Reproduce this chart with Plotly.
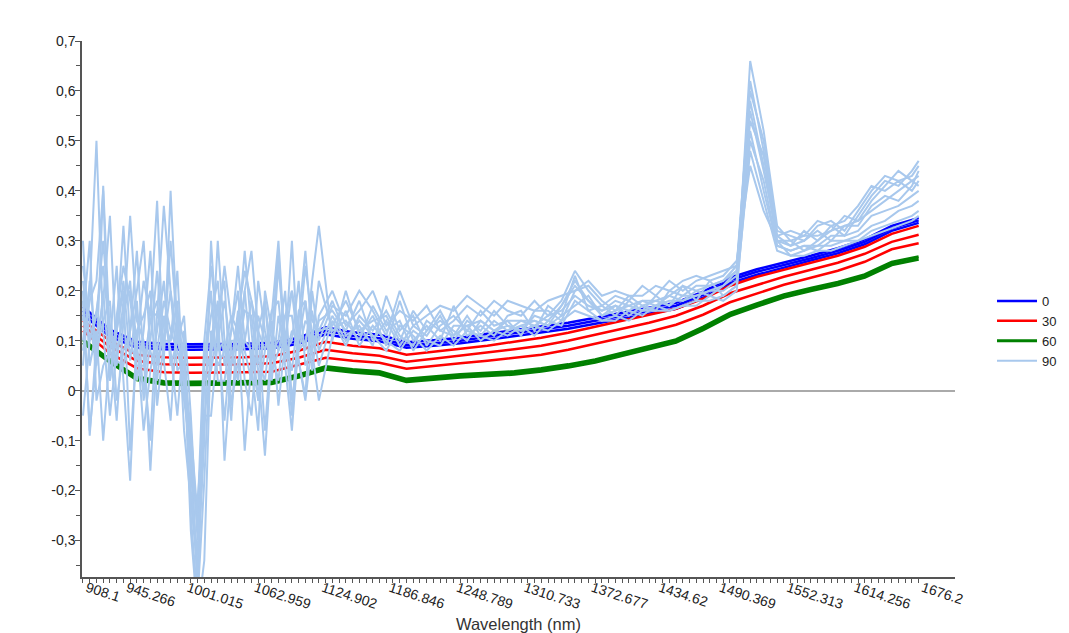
import numpy as np
import plotly.graph_objects as go

# ---------------- data ----------------
wl_coarse = [908.1, 932.877, 957.655, 982.432, 1007.21, 1031.987, 1056.764, 1081.542,
             1106.319, 1131.097, 1155.874, 1180.652, 1205.429, 1230.206, 1254.984, 1279.761,
             1304.539, 1329.316, 1354.094, 1378.871, 1403.648, 1428.426, 1453.203, 1477.981,
             1502.758, 1527.536, 1552.313, 1577.090, 1601.868, 1626.645, 1651.423, 1676.2]

blue_0 = [
    [0.168, 0.122, 0.098, 0.094, 0.093, 0.093, 0.094, 0.096, 0.106, 0.127, 0.117, 0.112, 0.097, 0.101, 0.106, 0.114,
     0.121, 0.128, 0.136, 0.146, 0.156, 0.166, 0.176, 0.198, 0.226, 0.243, 0.256, 0.270, 0.285, 0.303, 0.330, 0.346],
    [0.160, 0.115, 0.092, 0.088, 0.088, 0.088, 0.089, 0.090, 0.100, 0.120, 0.110, 0.105, 0.091, 0.095, 0.100, 0.108,
     0.115, 0.122, 0.130, 0.140, 0.150, 0.160, 0.170, 0.192, 0.221, 0.238, 0.251, 0.265, 0.280, 0.298, 0.325, 0.341],
    [0.152, 0.108, 0.086, 0.083, 0.082, 0.082, 0.083, 0.085, 0.094, 0.113, 0.104, 0.099, 0.086, 0.090, 0.095, 0.102,
     0.109, 0.116, 0.124, 0.134, 0.144, 0.154, 0.164, 0.186, 0.215, 0.232, 0.246, 0.260, 0.275, 0.293, 0.320, 0.336],
]
red_30 = [
    [0.140, 0.100, 0.072, 0.067, 0.066, 0.066, 0.067, 0.069, 0.080, 0.098, 0.090, 0.085, 0.072, 0.078, 0.084, 0.090,
     0.098, 0.106, 0.116, 0.128, 0.140, 0.152, 0.164, 0.184, 0.210, 0.228, 0.242, 0.256, 0.270, 0.288, 0.314, 0.330],
    [0.130, 0.088, 0.060, 0.053, 0.052, 0.052, 0.053, 0.055, 0.066, 0.082, 0.075, 0.070, 0.058, 0.064, 0.070, 0.076,
     0.083, 0.090, 0.100, 0.112, 0.124, 0.136, 0.150, 0.170, 0.195, 0.212, 0.228, 0.242, 0.256, 0.274, 0.298, 0.312],
    [0.120, 0.075, 0.045, 0.037, 0.036, 0.036, 0.037, 0.038, 0.052, 0.066, 0.060, 0.056, 0.044, 0.050, 0.055, 0.060,
     0.066, 0.072, 0.082, 0.094, 0.106, 0.118, 0.132, 0.152, 0.177, 0.195, 0.212, 0.226, 0.240, 0.258, 0.283, 0.295],
]
green_60 = [
    [0.102, 0.062, 0.027, 0.018, 0.017, 0.018, 0.018, 0.019, 0.032, 0.048, 0.042, 0.038, 0.023, 0.028, 0.032, 0.035,
     0.038, 0.044, 0.052, 0.062, 0.075, 0.089, 0.102, 0.127, 0.155, 0.174, 0.192, 0.205, 0.217, 0.232, 0.257, 0.268],
    [0.096, 0.057, 0.022, 0.013, 0.012, 0.013, 0.013, 0.014, 0.027, 0.043, 0.037, 0.033, 0.018, 0.023, 0.027, 0.030,
     0.033, 0.039, 0.047, 0.057, 0.070, 0.084, 0.097, 0.122, 0.150, 0.169, 0.187, 0.200, 0.212, 0.227, 0.252, 0.263],
]

# wavelengths of the "90" spectra: every point up to 1124.9 nm, every other point after
wl_fine = [908.1, 914.294, 920.489, 926.683, 932.877, 939.072, 945.266, 951.460, 957.655, 963.849,
           970.044, 976.238, 982.432, 988.627, 994.821, 1001.015, 1007.210, 1013.404, 1019.598, 1025.793,
           1031.987, 1038.181, 1044.376, 1050.570, 1056.764, 1062.959, 1069.153, 1075.347, 1081.542, 1087.736,
           1093.931, 1100.125, 1106.319, 1112.514, 1118.708, 1124.902,
           1137.291, 1149.680, 1162.068, 1174.457, 1186.846, 1199.234, 1211.623, 1224.012, 1236.400, 1248.789,
           1261.178, 1273.566, 1285.955, 1298.344, 1310.733, 1323.121, 1335.510, 1347.899, 1360.287, 1372.676,
           1385.065, 1397.453, 1409.842, 1422.231, 1434.620, 1447.008, 1459.397, 1471.786, 1484.174, 1496.563,
           1508.952, 1521.340, 1533.729, 1546.118, 1558.506, 1570.895, 1583.284, 1595.672, 1608.061, 1620.450,
           1632.838, 1645.227, 1657.616, 1670.004, 1676.2]

lightblue_90 = [
    [0.25, 0.14, 0.05, 0.20, 0.02, 0.12, 0.22, 0.06, 0.18, -0.02, 0.10, 0.24, 0.08, 0.30, 0.12, 0.02, -0.10, -0.40,
     0.05, 0.15, 0.22, 0.05, 0.12, 0.20, 0.02, -0.05, 0.12, 0.18, 0.06, 0.25, 0.10, 0.04, 0.16, 0.18, 0.08, 0.14,
     0.16, 0.12, 0.18, 0.10, 0.14, 0.09, 0.13, 0.11, 0.15, 0.10, 0.14, 0.12, 0.16, 0.13, 0.12, 0.15, 0.14, 0.17, 0.21, 0.18,
     0.15, 0.17, 0.16, 0.18, 0.17, 0.19, 0.18, 0.20, 0.19, 0.21, 0.23, 0.62, 0.48, 0.31, 0.29, 0.30, 0.32, 0.30, 0.33, 0.34,
     0.36, 0.38, 0.40, 0.42, 0.43],
    [0.10, 0.20, 0.50, 0.12, -0.05, 0.08, 0.15, 0.22, 0.02, 0.12, 0.28, 0.05, 0.14, 0.10, 0.18, -0.08, -0.22, -0.36,
     -0.10, 0.30, 0.08, 0.10, -0.06, 0.15, 0.24, 0.18, 0.06, 0.02, 0.14, -0.03, 0.10, 0.20, 0.12, 0.08, 0.22, 0.33,
     0.10, 0.20, 0.11, 0.15, 0.09, 0.18, 0.10, 0.13, 0.10, 0.17, 0.11, 0.13, 0.11, 0.15, 0.16, 0.12, 0.17, 0.15, 0.23, 0.16,
     0.17, 0.15, 0.18, 0.16, 0.19, 0.17, 0.21, 0.18, 0.22, 0.19, 0.21, 0.66, 0.52, 0.33, 0.30, 0.28, 0.30, 0.33, 0.31, 0.35,
     0.39, 0.42, 0.41, 0.44, 0.46],
    [-0.05, 0.10, 0.15, 0.30, 0.12, 0.05, 0.18, 0.20, 0.10, -0.08, 0.04, 0.12, 0.22, 0.05, 0.10, 0.15, -0.05, -0.30,
     0.02, 0.04, 0.12, 0.25, 0.14, 0.08, 0.16, 0.15, 0.04, -0.13, 0.08, 0.10, 0.20, -0.02, 0.08, 0.14, 0.12, 0.05,
     0.14, 0.09, 0.15, 0.12, 0.16, 0.11, 0.09, 0.14, 0.12, 0.11, 0.15, 0.11, 0.14, 0.12, 0.14, 0.13, 0.15, 0.16, 0.19, 0.17,
     0.16, 0.17, 0.15, 0.17, 0.18, 0.17, 0.19, 0.19, 0.20, 0.20, 0.22, 0.52, 0.40, 0.29, 0.28, 0.29, 0.28, 0.30, 0.30, 0.31,
     0.33, 0.34, 0.36, 0.37, 0.38],
    [0.18, -0.08, 0.06, 0.41, 0.10, 0.25, 0.02, -0.18, 0.12, 0.15, 0.20, -0.03, 0.10, 0.20, 0.04, 0.06, -0.28, -0.45,
     -0.34, 0.10, 0.18, -0.14, 0.05, 0.16, 0.08, 0.02, 0.22, 0.12, 0.04, 0.08, 0.15, 0.15, 0.06, -0.02, 0.10, 0.22,
     0.12, 0.14, 0.10, 0.17, 0.12, 0.14, 0.08, 0.12, 0.14, 0.12, 0.10, 0.14, 0.12, 0.11, 0.13, 0.14, 0.13, 0.15, 0.17, 0.19,
     0.15, 0.16, 0.17, 0.16, 0.17, 0.18, 0.18, 0.19, 0.20, 0.21, 0.24, 0.58, 0.45, 0.30, 0.27, 0.28, 0.29, 0.29, 0.30, 0.30,
     0.32, 0.33, 0.34, 0.35, 0.36],
    [0.30, 0.05, 0.12, -0.10, 0.08, 0.12, 0.33, 0.10, 0.05, 0.05, 0.14, 0.18, 0.06, -0.06, 0.15, 0.10, -0.15, -0.38,
     -0.05, -0.05, 0.10, 0.18, 0.08, 0.02, 0.20, 0.28, 0.12, 0.08, 0.16, 0.18, 0.05, -0.08, 0.10, 0.25, 0.14, 0.12,
     0.18, 0.11, 0.13, 0.09, 0.19, 0.12, 0.15, 0.09, 0.13, 0.15, 0.12, 0.16, 0.13, 0.14, 0.11, 0.16, 0.16, 0.14, 0.20, 0.21,
     0.18, 0.16, 0.19, 0.17, 0.16, 0.20, 0.19, 0.21, 0.21, 0.22, 0.25, 0.60, 0.50, 0.32, 0.31, 0.30, 0.33, 0.34, 0.32, 0.36,
     0.40, 0.43, 0.42, 0.43, 0.45],
    [0.05, 0.22, 0.08, 0.14, 0.18, -0.02, 0.08, 0.12, 0.28, 0.06, -0.10, 0.16, 0.10, 0.10, 0.24, -0.02, -0.12, -0.28,
     0.06, 0.20, 0.02, 0.02, 0.12, 0.25, 0.10, 0.08, -0.02, 0.18, 0.02, 0.15, 0.08, 0.10, 0.22, 0.05, 0.08, -0.02,
     0.11, 0.16, 0.09, 0.13, 0.10, 0.08, 0.12, 0.10, 0.09, 0.13, 0.13, 0.10, 0.12, 0.13, 0.12, 0.13, 0.12, 0.14, 0.16, 0.15,
     0.14, 0.15, 0.14, 0.16, 0.16, 0.16, 0.17, 0.18, 0.18, 0.19, 0.21, 0.48, 0.38, 0.28, 0.27, 0.27, 0.28, 0.28, 0.29, 0.30,
     0.31, 0.32, 0.33, 0.34, 0.35],
    [0.14, 0.30, -0.02, 0.05, 0.08, 0.12, 0.20, -0.12, 0.10, 0.22, 0.15, 0.38, 0.06, 0.40, 0.12, 0.08, -0.20, -0.33,
     0.02, 0.08, 0.16, 0.22, -0.03, 0.06, 0.10, 0.18, 0.12, -0.08, 0.10, 0.28, 0.06, 0.12, 0.10, 0.18, 0.04, 0.15,
     0.20, 0.13, 0.16, 0.20, 0.13, 0.16, 0.14, 0.17, 0.12, 0.14, 0.17, 0.15, 0.18, 0.16, 0.15, 0.18, 0.15, 0.18, 0.24, 0.20,
     0.17, 0.19, 0.18, 0.21, 0.19, 0.22, 0.20, 0.22, 0.23, 0.24, 0.25, 0.56, 0.44, 0.31, 0.32, 0.31, 0.34, 0.33, 0.34, 0.37,
     0.41, 0.40, 0.42, 0.40, 0.42],
    [0.20, -0.09, 0.10, 0.18, 0.35, 0.06, 0.05, 0.12, 0.20, 0.30, 0.08, 0.02, 0.15, 0.08, -0.05, 0.12, -0.25, -0.42,
     -0.18, 0.12, 0.05, 0.08, 0.15, 0.12, -0.12, 0.06, 0.15, 0.10, 0.08, 0.02, 0.15, 0.20, 0.08, 0.10, 0.16, 0.08,
     0.15, 0.10, 0.14, 0.11, 0.08, 0.13, 0.11, 0.08, 0.11, 0.09, 0.12, 0.11, 0.10, 0.12, 0.13, 0.11, 0.14, 0.13, 0.18, 0.16,
     0.14, 0.14, 0.16, 0.15, 0.17, 0.16, 0.17, 0.17, 0.19, 0.18, 0.20, 0.50, 0.42, 0.29, 0.28, 0.29, 0.29, 0.31, 0.31, 0.32,
     0.35, 0.36, 0.37, 0.39, 0.40],
    [0.08, 0.18, 0.22, 0.40, 0.02, 0.15, 0.25, 0.18, 0.08, 0.00, 0.16, 0.15, 0.37, 0.20, 0.10, 0.05, -0.08, -0.25,
     0.10, 0.25, 0.12, -0.06, 0.10, 0.10, 0.20, 0.05, -0.08, 0.20, 0.12, 0.08, 0.12, -0.05, 0.14, 0.28, 0.10, 0.12,
     0.13, 0.18, 0.12, 0.14, 0.15, 0.10, 0.16, 0.12, 0.16, 0.11, 0.13, 0.14, 0.12, 0.14, 0.14, 0.14, 0.13, 0.17, 0.22, 0.18,
     0.16, 0.18, 0.17, 0.18, 0.18, 0.19, 0.21, 0.20, 0.21, 0.22, 0.24, 0.54, 0.47, 0.30, 0.30, 0.31, 0.31, 0.32, 0.33, 0.33,
     0.37, 0.39, 0.38, 0.41, 0.44],
    [0.22, 0.10, 0.16, 0.25, 0.10, -0.06, 0.14, 0.35, 0.14, 0.10, -0.16, 0.08, 0.18, 0.12, 0.08, 0.02, -0.18, -0.22,
     -0.05, 0.05, 0.30, 0.10, 0.05, 0.12, 0.28, 0.12, -0.02, 0.08, 0.15, 0.30, 0.08, 0.30, 0.06, -0.01, 0.20, 0.10,
     0.17, 0.15, 0.20, 0.16, 0.11, 0.20, 0.13, 0.15, 0.17, 0.16, 0.19, 0.17, 0.15, 0.18, 0.17, 0.16, 0.18, 0.19, 0.20, 0.22,
     0.19, 0.20, 0.19, 0.19, 0.21, 0.20, 0.22, 0.23, 0.22, 0.23, 0.26, 0.45, 0.36, 0.30, 0.29, 0.32, 0.30, 0.32, 0.35, 0.34,
     0.38, 0.41, 0.44, 0.42, 0.41],
]

tick_labels = ["908.1", "945.266", "1001.015", "1062.959", "1124.902", "1186.846", "1248.789",
               "1310.733", "1372.677", "1434.62", "1490.369", "1552.313", "1614.256", "1676.2"]
y_tick_vals = [0.7, 0.6, 0.5, 0.4, 0.3, 0.2, 0.1, 0, -0.1, -0.2, -0.3]
y_tick_text = ["0,7", "0,6", "0,5", "0,4", "0,3", "0,2", "0,1", "0", "-0,1", "-0,2", "-0,3"]

# ---------------- figure ----------------
fig = go.Figure()

groups = [
    ("0", blue_0, wl_coarse, "#0000ff", 2.5),
    ("30", red_30, wl_coarse, "#ff0000", 2.5),
    ("60", green_60, wl_coarse, "#008000", 3.2),
    ("90", lightblue_90, wl_fine, "#a8c8ed", 2),
]
for name, lines, xs, color, width in groups:
    for k, ys in enumerate(lines):
        fig.add_trace(go.Scatter(
            x=xs, y=ys, mode="lines", name=name, legendgroup=name,
            showlegend=(k == 0), line=dict(color=color, width=width),
            hoverinfo="skip"))

minor_x = list(np.linspace(908.1, 1676.2, 125))
minor_y = [0.65, 0.55, 0.45, 0.35, 0.25, 0.15, 0.05, -0.05, -0.15, -0.25, -0.35]

fig.update_layout(
    width=1069, height=633,
    margin=dict(l=82, r=114, t=41, b=56, autoexpand=False),
    paper_bgcolor="white", plot_bgcolor="white",
    font=dict(family="Liberation Sans, Arial, sans-serif", size=14, color="#222222"),
    legend=dict(x=1.0424, y=0.459, xanchor="left", yanchor="middle",
                font=dict(size=13), itemwidth=40, tracegroupgap=0,
                bgcolor="rgba(0,0,0,0)"),
    showlegend=True,
)
fig.update_xaxes(
    range=[907.2, 1709.6], showgrid=False, zeroline=False,
    showline=True, linecolor="#555555", linewidth=1.5,
    tickmode="array", tickvals=[float(t) for t in tick_labels], ticktext=tick_labels,
    ticks="outside", ticklen=4, tickcolor="#555555", tickangle=18,
    ticklabelstandoff=-8, ticklabelshift=4,
    tickfont=dict(size=14, color="#222222"),
    minor=dict(tickvals=minor_x, ticks="outside", ticklen=4, tickcolor="#555555"),
    title=dict(text="Wavelength (nm)", font=dict(size=16.5, color="#333333"), standoff=11),
    automargin=False,
)
fig.update_yaxes(
    range=[-0.373, 0.7], showgrid=False,
    zeroline=True, zerolinecolor="#aaaaaa", zerolinewidth=1.5,
    showline=True, linecolor="#555555", linewidth=1.5,
    tickmode="array", tickvals=y_tick_vals, ticktext=y_tick_text,
    ticks="outside", ticklen=5, tickcolor="#555555", ticklabelstandoff=-3,
    tickfont=dict(size=14, color="#222222"),
    minor=dict(tickvals=minor_y, ticks="outside", ticklen=4, tickcolor="#555555"),
    automargin=False,
)

fig.write_html("out.html")
